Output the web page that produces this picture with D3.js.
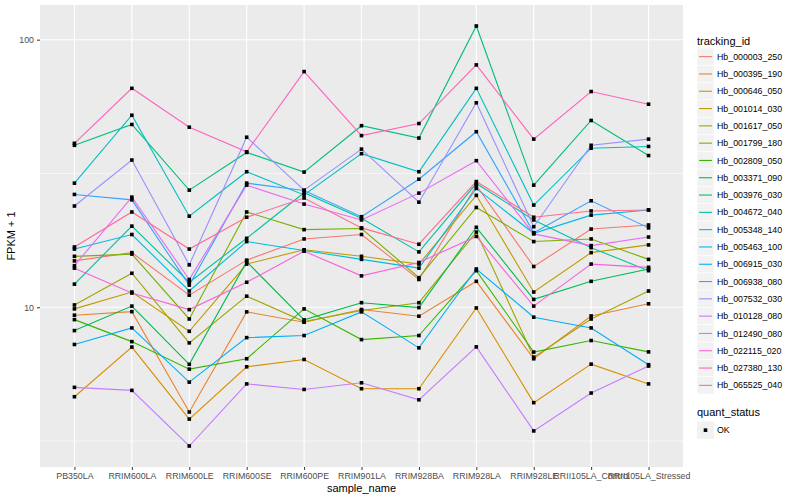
<!DOCTYPE html>
<html lang="en">
<head>
<meta charset="UTF-8">
<title>FPKM + 1 by sample</title>
<script src="https://d3js.org/d3.v7.min.js"></script>
<style>
  body { margin: 0; background: #fff; }
  svg { font-family: 'Liberation Sans', Arial, sans-serif; }
</style>
</head>
<body>
<svg width="800" height="500"></svg>
<script>
const samples = ["PB350LA", "RRIM600LA", "RRIM600LE", "RRIM600SE", "RRIM600PE", "RRIM901LA",
  "RRIM928BA", "RRIM928LA", "RRIM928LE", "RRII105LA_Control", "RRII105LA_Stressed"];

const trackingIds = ["Hb_000003_250", "Hb_000395_190", "Hb_000646_050", "Hb_001014_030", "Hb_001617_050",
  "Hb_001799_180", "Hb_002809_050", "Hb_003371_090", "Hb_003976_030", "Hb_004672_040",
  "Hb_005348_140", "Hb_005463_100", "Hb_006915_030", "Hb_006938_080", "Hb_007532_030",
  "Hb_010128_080", "Hb_012490_080", "Hb_022115_020", "Hb_027380_130", "Hb_065525_040"];

// FPKM + 1, one value per sample
const hb_000003_250 = [14.9, 16.0, 11.1, 15.0, 18.0, 18.7, 12.7, 28.5, 14.2, 19.6, 20.3];
const hb_000395_190 = [9.34, 9.63, 4.06, 9.61, 8.79, 9.81, 9.26, 12.5, 6.42, 9.28, 10.3];
const hb_000646_050 = [4.63, 7.10, 3.82, 5.99, 6.38, 4.96, 4.96, 9.94, 4.40, 6.13, 5.17];
const hb_001014_030 = [9.86, 11.4, 8.13, 14.5, 16.4, 15.5, 14.5, 26.2, 11.4, 16.0, 17.1];
const hb_001617_050 = [10.2, 13.4, 7.36, 11.0, 8.84, 9.73, 10.4, 19.1, 6.51, 9.04, 11.5];
const hb_001799_180 = [15.5, 15.8, 9.04, 22.7, 19.5, 19.7, 12.9, 23.6, 17.6, 18.0, 15.1];
const hb_002809_050 = [8.99, 7.44, 5.87, 6.42, 9.86, 7.57, 7.84, 13.7, 6.80, 7.51, 6.81];
const hb_003371_090 = [8.18, 10.1, 6.12, 14.8, 8.97, 10.4, 9.97, 19.9, 10.7, 12.5, 13.9];
const hb_003976_030 = [40.3, 48.2, 27.4, 37.9, 32.0, 47.7, 42.9, 112.5, 28.6, 49.9, 36.9];
const hb_004672_040 = [12.2, 20.1, 12.4, 18.1, 26.8, 21.5, 16.1, 29.0, 21.2, 16.7, 13.7];
const hb_005348_140 = [29.1, 52.2, 21.9, 32.1, 26.3, 37.5, 32.1, 65.8, 24.1, 39.3, 39.9];
const hb_005463_100 = [16.5, 18.7, 11.5, 17.6, 16.3, 15.1, 14.0, 27.8, 18.9, 22.1, 23.1];
const hb_006915_030 = [7.26, 8.37, 5.25, 7.70, 7.84, 9.61, 7.05, 13.9, 9.18, 8.37, 6.10];
const hb_006938_080 = [26.4, 25.2, 12.1, 29.1, 27.3, 21.8, 30.1, 45.3, 19.0, 25.0, 19.8];
const hb_007532_030 = [23.9, 35.5, 14.4, 43.2, 27.4, 39.0, 24.7, 58.1, 20.0, 40.3, 42.5];
const hb_010128_080 = [5.02, 4.89, 3.03, 5.17, 4.93, 5.22, 4.51, 7.11, 3.45, 4.78, 6.03];
const hb_012490_080 = [14.3, 25.8, 12.7, 28.6, 24.3, 21.2, 26.7, 35.3, 18.8, 17.0, 18.3];
const hb_022115_020 = [14.0, 11.3, 9.80, 12.4, 16.2, 13.1, 14.7, 18.4, 10.1, 14.5, 14.1];
const hb_027380_130 = [41.0, 65.8, 47.1, 38.1, 76.0, 43.8, 48.6, 80.5, 42.5, 64.0, 57.4];
const hb_065525_040 = [16.8, 22.7, 16.5, 21.7, 25.6, 19.8, 17.2, 29.5, 21.7, 22.9, 23.1];

const yTicks = [10, 100];
const yMinor = [Math.pow(10, 0.5), Math.pow(10, 1.5)];

// ggplot hue palette, 20 levels
const palette = ["#F8766D", "#EA8331", "#D89000", "#C09B00", "#A3A500", "#7CAE00", "#39B600", "#00BB4E",
  "#00BF7D", "#00C1A3", "#00BFC4", "#00BAE0", "#00B0F6", "#35A2FF", "#9590FF", "#C77CFF",
  "#E76BF3", "#FA62DB", "#FF62BC", "#FF6C90"];

const seriesValues = [hb_000003_250, hb_000395_190, hb_000646_050, hb_001014_030, hb_001617_050,
  hb_001799_180, hb_002809_050, hb_003371_090, hb_003976_030, hb_004672_040, hb_005348_140,
  hb_005463_100, hb_006915_030, hb_006938_080, hb_007532_030, hb_010128_080, hb_012490_080,
  hb_022115_020, hb_027380_130, hb_065525_040];

const series = trackingIds.map((id, i) => ({
  id: id,
  color: palette[i],
  values: samples.map((s, j) => ({ sample: s, value: seriesValues[i][j] }))
}));

const svg = d3.select("svg");
const panel = { left: 40, right: 683, top: 5, bottom: 467 };

const x = d3.scalePoint().domain(samples).range([panel.left, panel.right]).padding(0.6);

// log scale with ggplot's 5% expansion in log space
const all = seriesValues.flat();
const lo = Math.log10(d3.min(all)), hi = Math.log10(d3.max(all));
const pad = (hi - lo) * 0.05;
const y = d3.scaleLog()
  .domain([Math.pow(10, lo - pad), Math.pow(10, hi + pad)])
  .range([panel.bottom, panel.top]);

// panel background
svg.append("rect")
  .attr("x", panel.left).attr("y", panel.top)
  .attr("width", panel.right - panel.left).attr("height", panel.bottom - panel.top)
  .attr("fill", "#EBEBEB");

// grid
svg.append("g").selectAll("line").data(yMinor).join("line")
  .attr("x1", panel.left).attr("x2", panel.right)
  .attr("y1", d => y(d)).attr("y2", d => y(d))
  .attr("stroke", "#fff").attr("stroke-width", 0.55);

svg.append("g").selectAll("line").data(yTicks).join("line")
  .attr("x1", panel.left).attr("x2", panel.right)
  .attr("y1", d => y(d)).attr("y2", d => y(d))
  .attr("stroke", "#fff").attr("stroke-width", 1.1);

svg.append("g").selectAll("line").data(samples).join("line")
  .attr("x1", d => x(d)).attr("x2", d => x(d))
  .attr("y1", panel.top).attr("y2", panel.bottom)
  .attr("stroke", "#fff").attr("stroke-width", 1.1);

// axes
const xAxis = svg.append("g")
  .attr("transform", `translate(0,${panel.bottom})`)
  .call(d3.axisBottom(x).tickSize(3).tickPadding(3));

const yAxis = svg.append("g")
  .attr("transform", `translate(${panel.left},0)`)
  .call(d3.axisLeft(y).tickValues(yTicks).tickFormat(d3.format("d")).tickSize(3).tickPadding(3));

[xAxis, yAxis].forEach(a => {
  a.select(".domain").remove();
  a.selectAll(".tick line").attr("stroke", "#333333").attr("stroke-width", 1);
  a.selectAll(".tick text")
    .attr("fill", "#4D4D4D")
    .attr("font-size", "8.8px")
    .attr("font-family", "'Liberation Sans', Arial, sans-serif");
});

// lines
const line = d3.line()
  .x(d => x(d.sample))
  .y(d => y(d.value));

svg.append("g").selectAll("path").data(series).join("path")
  .attr("d", d => line(d.values))
  .attr("fill", "none")
  .attr("stroke", d => d.color)
  .attr("stroke-width", 1.1);

// points
const pts = series.flatMap(s => s.values);
svg.append("g").selectAll("rect").data(pts).join("rect")
  .attr("x", d => x(d.sample) - 1.8)
  .attr("y", d => y(d.value) - 1.8)
  .attr("width", 3.6).attr("height", 3.6)
  .attr("fill", "#000");

// axis titles
svg.append("text")
  .attr("x", (panel.left + panel.right) / 2)
  .attr("y", 492)
  .attr("text-anchor", "middle")
  .attr("font-size", "11px")
  .text("sample_name");

svg.append("text")
  .attr("transform", `translate(15,${(panel.top + panel.bottom) / 2}) rotate(-90)`)
  .attr("text-anchor", "middle")
  .attr("font-size", "11px")
  .text("FPKM + 1");

// legend: tracking_id
const legX = 697;
svg.append("text")
  .attr("x", legX).attr("y", 44.5)
  .attr("font-size", "11px")
  .text("tracking_id");

const keyH = 17.3, keyTop = 48;
const leg = svg.append("g").selectAll("g").data(series).join("g")
  .attr("transform", (d, i) => `translate(${legX},${keyTop + i * keyH})`);

leg.append("rect")
  .attr("width", 17).attr("height", keyH)
  .attr("fill", "#F2F2F2").attr("stroke", "#fff").attr("stroke-width", 0.6);

leg.append("line")
  .attr("x1", 2).attr("x2", 15)
  .attr("y1", keyH / 2).attr("y2", keyH / 2)
  .attr("stroke", d => d.color).attr("stroke-width", 1.1);

leg.append("text")
  .attr("x", 20).attr("y", keyH / 2)
  .attr("dy", "0.35em")
  .attr("font-size", "8.8px")
  .text(d => d.id);

// legend: quant_status
svg.append("text")
  .attr("x", legX).attr("y", 416)
  .attr("font-size", "11px")
  .text("quant_status");

const okKey = svg.append("g").attr("transform", `translate(${legX},421.5)`);
okKey.append("rect")
  .attr("width", 17).attr("height", keyH)
  .attr("fill", "#F2F2F2");
okKey.append("rect")
  .attr("x", 8.5 - 1.8).attr("y", keyH / 2 - 1.8)
  .attr("width", 3.6).attr("height", 3.6)
  .attr("fill", "#000");
okKey.append("text")
  .attr("x", 20).attr("y", keyH / 2)
  .attr("dy", "0.35em")
  .attr("font-size", "8.8px")
  .text("OK");
</script>
</body>
</html>
